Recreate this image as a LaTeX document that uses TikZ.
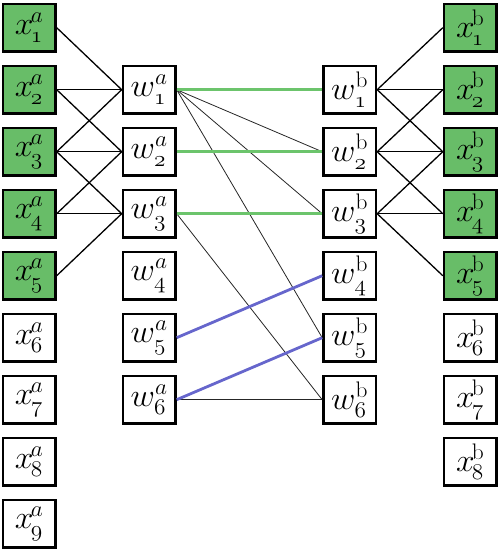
\documentclass[tikz,border=0pt]{standalone}
\usepackage{graphicx}
\definecolor{boxgreen}{RGB}{104,189,104}
\definecolor{lgreen}{RGB}{108,196,108}
\definecolor{lblue}{RGB}{102,102,204}
\newcommand{\lbl}[1]{\scalebox{1.35}[1.3]{$#1$}}
\newcommand{\xs}{{x\mkern-1.5mu}}
\newcommand{\ws}{w}
\tikzset{
  cell/.style={draw=black, line width=2.5pt, minimum width=52.5pt, minimum height=47.5pt, inner sep=0pt, font=\fontsize{24}{24}\selectfont},
  gcell/.style={cell, fill=boxgreen},
  conn/.style={line width=1.3pt},
  thin/.style={line width=0.8pt, black!85},
  gline/.style={line width=2.8pt, lgreen},
  bline/.style={line width=2.8pt, lblue}
}
\begin{document}
\begin{tikzpicture}[x=1pt,y=-1pt]
\useasboundingbox (0,0) rectangle (499,549);
\foreach \i in {1,...,9}{
  \pgfmathsetmacro{\yy}{27.7+62*(\i-1)}
  \ifnum\i<6
    \node[gcell] (xa\i) at (29.2,\yy) {\lbl{\xs^{a}_{\oldstylenums{\i}}}};
  \else
    \node[cell] (xa\i) at (29.2,\yy) {\lbl{\xs^{a}_{\oldstylenums{\i}}}};
  \fi
}
\foreach \i in {1,...,8}{
  \pgfmathsetmacro{\yy}{27.7+62*(\i-1)}
  \ifnum\i<6
    \node[gcell] (xb\i) at (470.3,\yy) {\lbl{\xs^{\mathrm{b}}_{\oldstylenums{\i}}}};
  \else
    \node[cell] (xb\i) at (470.3,\yy) {\lbl{\xs^{\mathrm{b}}_{\oldstylenums{\i}}}};
  \fi
}
\foreach \i in {1,...,6}{
  \pgfmathsetmacro{\yy}{27.7+62*\i}
  \node[cell] (wa\i) at (149.2,\yy) {\lbl{\ws^{a}_{\oldstylenums{\i}}}};
  \node[cell] (wb\i) at (349.7,\yy) {\lbl{\ws^{\mathrm{b}}_{\oldstylenums{\i}}}};
}
% left connections
\foreach \j/\i in {1/1,1/2,1/3,2/2,2/3,2/4,3/3,3/4,3/5}{
  \draw[conn] (xa\i.east) -- (wa\j.west);
}
% right connections
\foreach \j/\i in {1/1,1/2,1/3,2/2,2/3,2/4,3/3,3/4,3/5}{
  \draw[conn] (wb\j.east) -- (xb\i.west);
}
% middle
\draw[thin] (wa1.east) -- (wb2.west);
\draw[thin] (wa1.east) -- (wb3.west);
\draw[thin] (wa1.east) -- (wb5.west);
\draw[thin] (wa3.east) -- (wb6.west);
\draw[thin] (wa6.east) -- (wb6.west);
\draw[gline] (wa1.east) -- (wb1.west);
\draw[gline] (wa2.east) -- (wb2.west);
\draw[gline] (wa3.east) -- (wb3.west);
\draw[bline] (wa5.east) -- (wb4.west);
\draw[bline] (wa6.east) -- (wb5.west);
\end{tikzpicture}
\end{document}
